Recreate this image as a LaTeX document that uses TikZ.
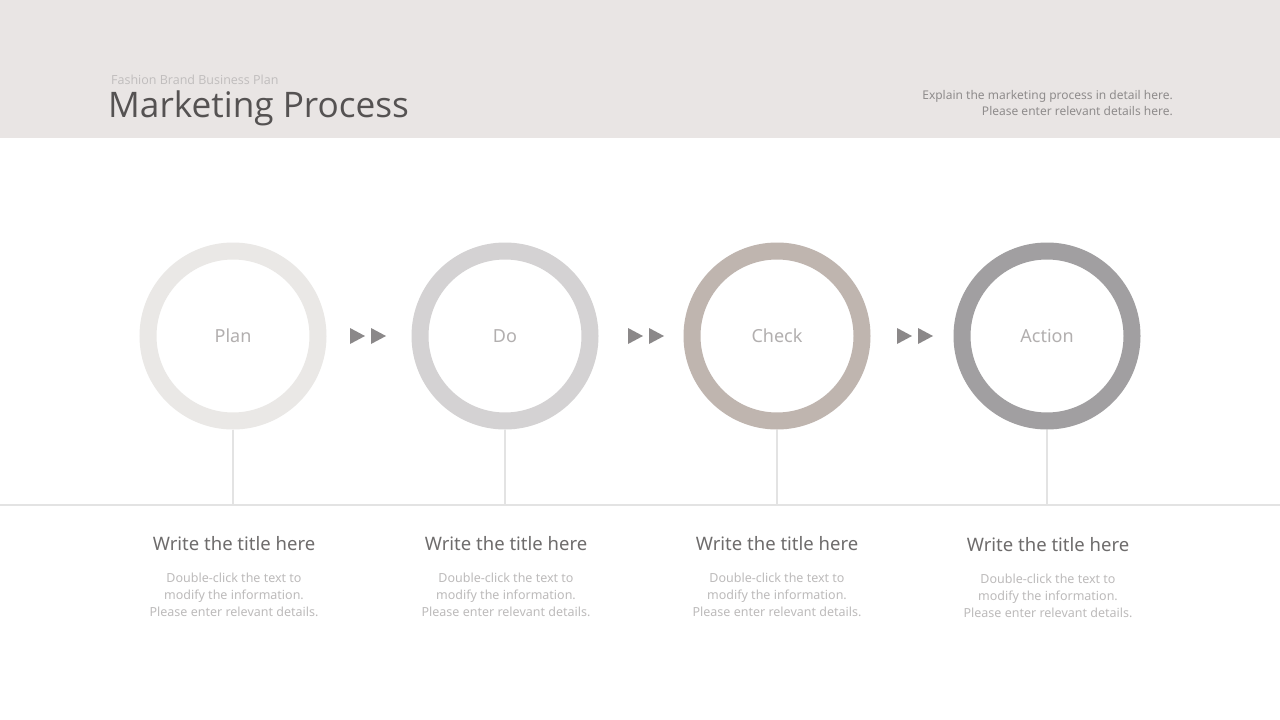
\documentclass[tikz,border=0pt]{standalone}
\usepackage{fontspec}
\setmainfont{Noto Sans}
\newfontfamily\titlefont{Open Sans}
\definecolor{band}{HTML}{E9E5E4}
\definecolor{ringA}{HTML}{EAE8E6}
\definecolor{ringB}{HTML}{D4D2D3}
\definecolor{ringC}{HTML}{BFB5AF}
\definecolor{ringD}{HTML}{A19FA1}
\definecolor{linec}{HTML}{E3E3E3}
\definecolor{arrowc}{HTML}{8B8889}
\definecolor{labelc}{HTML}{B2AFAF}
\definecolor{headc}{HTML}{6E6C6C}
\definecolor{bodyc}{HTML}{BDBBBB}
\definecolor{titlec}{HTML}{555252}
\definecolor{subc}{HTML}{C0BDBD}
\definecolor{rightc}{HTML}{8F8C8C}
\tikzset{
  ring/.style={circle, minimum size=170pt, line width=17pt, inner sep=0pt},
  ringlabel/.style={font=\fontsize{18}{21}\selectfont, text=labelc},
  stem/.style={draw=linec, line width=2pt},
  tri/.style={fill=arrowc, draw=none},
  head/.style={font=\fontsize{18.5}{22}\selectfont, text=headc, anchor=base},
  body/.style={font=\fontsize{12.5}{17}\selectfont, text=bodyc, align=center, anchor=north},
}
\begin{document}
\begin{tikzpicture}[x=1pt,y=-1pt]
\useasboundingbox (0,0) rectangle (1280,720);
\fill[white] (0,0) rectangle (1280,720);
\fill[band] (0,0) rectangle (1280,138);
\node[anchor=base west, inner sep=0pt, text=subc, font=\titlefont\fontsize{12.5}{14}\selectfont] (sub) at (111,84) {Fashion Brand Business Plan};
\node[anchor=base west, inner sep=0pt, text=titlec, font=\titlefont\fontsize{35.2}{40}\selectfont] (title) at (108,117) {Marketing Process};
\node[anchor=north east, inner sep=0pt, text=rightc, align=right, font=\fontsize{12}{16}\selectfont] (expl) at (1173,90) {Explain the marketing process in detail here.\\Please enter relevant details here.};
% baseline
\coordinate (hl) at (0,505);
\coordinate (hr) at (1280,505);
\draw[draw=linec, line width=2pt] (hl) -- (hr);
% circles
\foreach \n/\x/\c/\t in {p/233/ringA/Plan, d/505/ringB/Do, c/777/ringC/Check, a/1047/ringD/Action}{
  \coordinate (s\n) at (\x,505);
  \node[ring, draw=\c] (r\n) at (\x,336) {};
  \draw[stem] (r\n.south) -- (s\n);
  \node[ringlabel] (l\n) at (\x,336) {\t};
}
% arrows
\foreach \x in {350,628,897}{
  \fill[tri] (\x,328) -- (\x+15,336) -- (\x,344) -- cycle;
  \fill[tri] (\x+21,328) -- (\x+36,336) -- (\x+21,344) -- cycle;
}
% texts
\foreach \n/\x/\y in {p/234/550, d/506/550, c/777/550, a/1048/551}{
  \node[head] (h\n) at (\x,\y) {Write the title here};
  \node[body] (b\n) at (\x,\y+19) {Double-click the text to\\modify the information.\\Please enter relevant details.};
}
\end{tikzpicture}
\end{document}
